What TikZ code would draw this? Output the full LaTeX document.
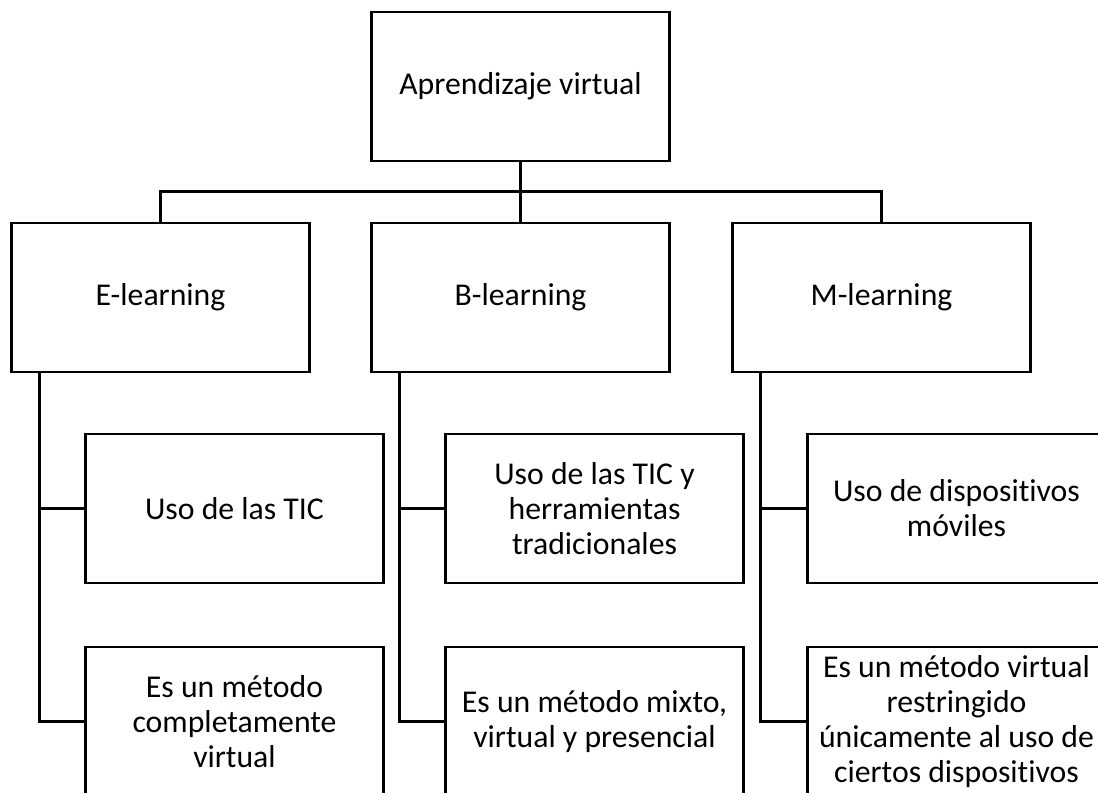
\documentclass[tikz,border=0pt]{standalone}
\usepackage{fontspec}
\setmainfont{Carlito}[Ligatures=NoCommon]
\usetikzlibrary{calc}
\tikzset{
  box/.style={draw=black, line width=1.6pt, fill=white, rectangle,
    minimum width=223.5pt, minimum height=111.75pt, inner sep=0pt,
    align=center, font=\fontsize{23.8pt}{26.25pt}\selectfont},
  link/.style={draw=black, line width=1.6pt}
}
\begin{document}
\begin{tikzpicture}[x=0.75pt, y=-0.75pt]
\useasboundingbox (0,0) rectangle (1098,792);
\clip (0,0) rectangle (1098,792);
\fill[white] (0,0) rectangle (1098,792);
% nodes
\node[box] (top) at (520.5,86.5) {Aprendizaje virtual};
\node[box] (E) at (160.5,297.5) {E-learning};
\node[box] (B) at (520.5,297.5) {B-learning};
\node[box] (M) at (881.5,297.5) {M-learning};
\node[box] (E1) at (234.5,508.5) {Uso de las TIC};
\node[box] (B1) at (594.5,508.5) {Uso de las TIC y\\herramientas\\tradicionales};
\node[box] (M1) at (956.5,508.5) {Uso de dispositivos\\móviles};
\node[box] (E2) at (234.5,721.5) {Es un método\\completamente\\virtual};
\node[box] (B2) at (594.5,721.5) {Es un método mixto,\\virtual y presencial};
\node[box] (M2) at (956.5,721.5) {Es un método virtual\\restringido\\únicamente al uso de\\ciertos dispositivos};
% connectors
\coordinate (bus) at (520.5,191.5);
\draw[link] (top.south) -- (B.north);
\draw[link] (E.north) |- (bus) -| (M.north);
\foreach \p in {E,B,M}{
  \coordinate (\p t) at ($(\p.south west)+(29,0)$);
  \draw[link] (\p t) |- (\p 2.west);
  \draw[link] (\p t) |- (\p 1.west);
}
\end{tikzpicture}
\end{document}
